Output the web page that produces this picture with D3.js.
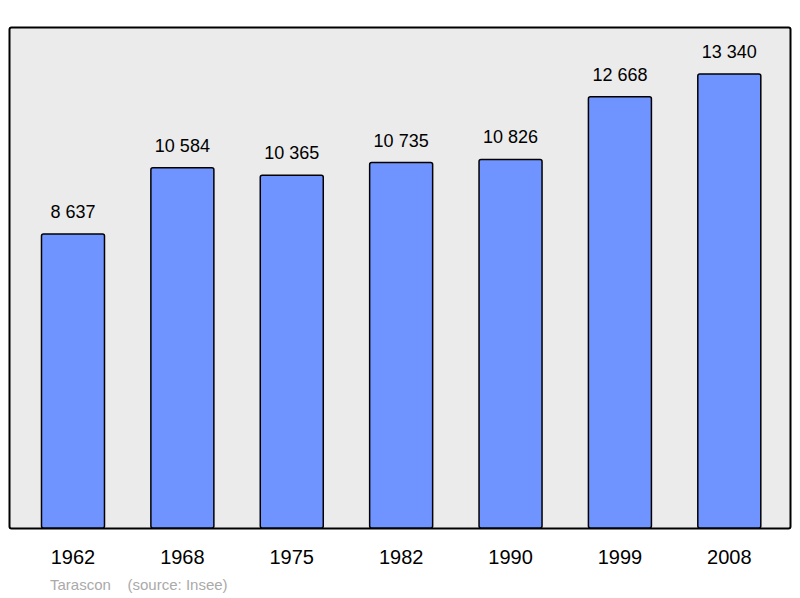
<!DOCTYPE html>
<html><head><meta charset="utf-8">
<script src="https://cdn.jsdelivr.net/npm/d3@7"></script>
<style>body{margin:0;background:#fff}</style></head>
<body><svg id="c" width="800" height="598"></svg>
<script>
// population data
const years = ['1962','1968','1975','1982','1990','1999','2008'];
const population = [8637, 10584, 10365, 10735, 10826, 12668, 13340];
const labels = ['8 637','10 584','10 365','10 735','10 826','12 668','13 340'];

const svg = d3.select('#c');
const font = 'Liberation Sans, Arial, sans-serif';

svg.append('rect').attr('x',9.5).attr('y',27.5).attr('width',781).attr('height',501)
  .attr('rx',2).attr('fill','#ebebeb').attr('stroke','#000').attr('stroke-width',2);

let x = d3.scaleBand().domain(years).range([18.3,784]);
let y = d3.scaleLinear().domain([0,14718]).range([528,27]);
const bw = 63;

svg.selectAll('.bar').data(population).join('rect')
  .attr('x',(d,i)=>x(years[i])+x.bandwidth()/2-bw/2)
  .attr('y',d=>y(d)).attr('width',bw).attr('height',d=>528-y(d))
  .attr('rx',2).attr('fill','#7094ff').attr('stroke','#000').attr('stroke-width',1.5);

svg.selectAll('.val').data(population).join('text')
  .attr('x',(d,i)=>x(years[i])+x.bandwidth()/2).attr('y',d=>y(d)-16)
  .attr('text-anchor','middle').attr('font-family',font).attr('font-size',18)
  .text((d,i)=>labels[i]);

svg.selectAll('.yr').data(years).join('text')
  .attr('x',d=>x(d)+x.bandwidth()/2).attr('y',564)
  .attr('text-anchor','middle').attr('font-family',font).attr('font-size',20)
  .text(d=>d);

svg.append('text').attr('x',50).attr('y',590).attr('font-family',font).attr('font-size',15)
  .attr('fill','#aaa').attr('xml:space','preserve').text('Tarascon    (source: Insee)');
</script></body></html>
